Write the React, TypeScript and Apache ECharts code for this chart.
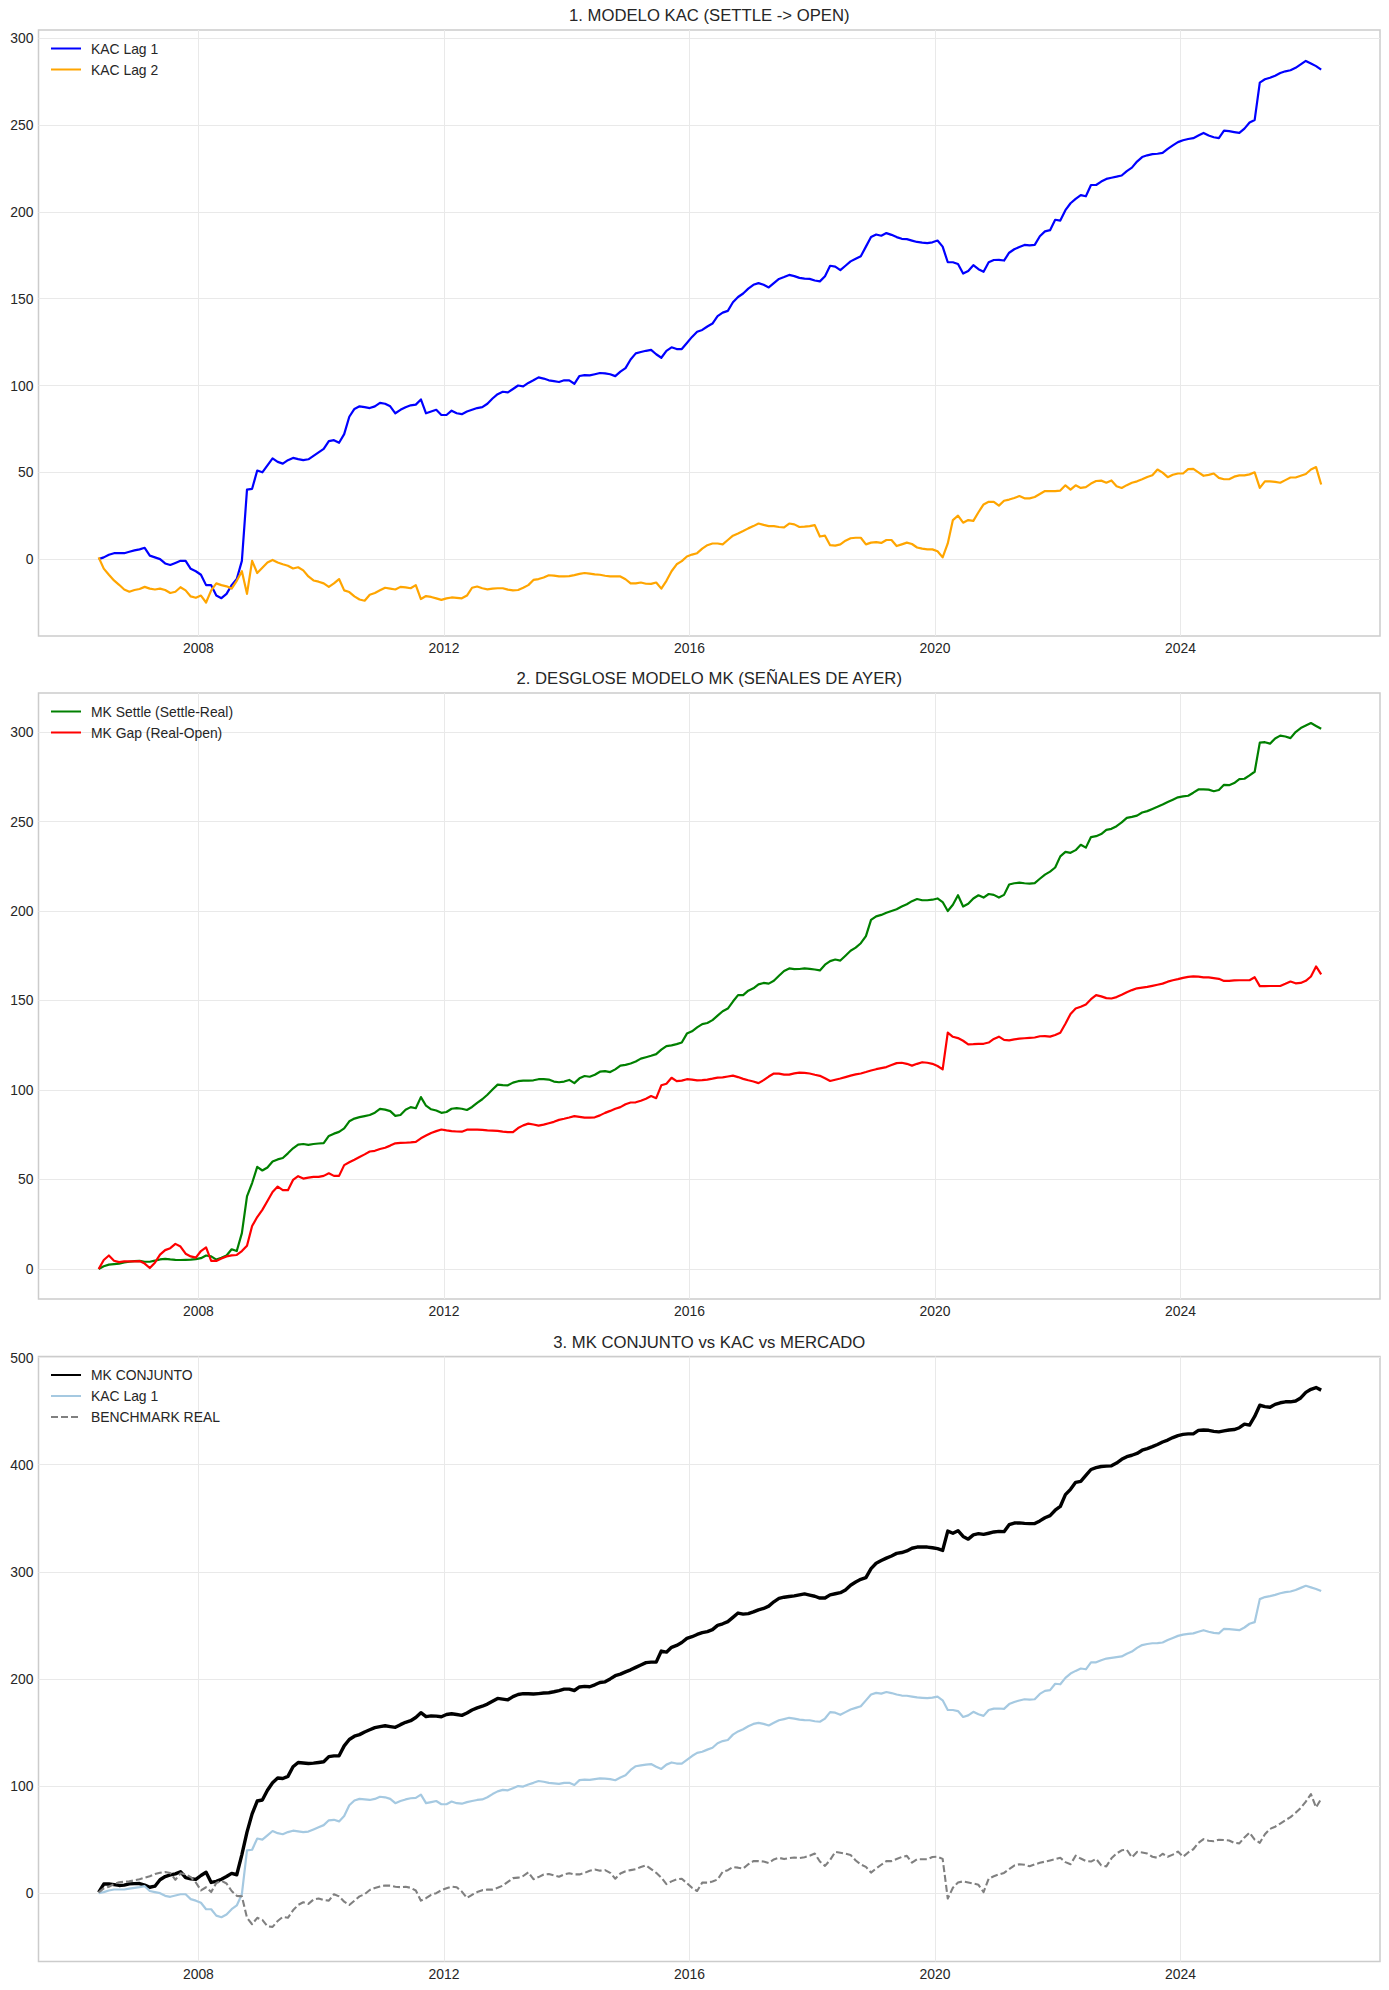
import React, { useEffect, useRef } from 'react';
import * as echarts from 'echarts';

// ---- data (monthly samples, starting May 2006) ----
const START_YEAR = 2006;
const START_MONTH = 5;

const KAC_LAG1 = [
  0, 1, 2.5, 3.4, 3.4, 3.4, 4.2, 5, 5.6, 6.5,
  2, 1, 0, -2.5, -3.4, -2.2, -1, -1, -5.6, -7,
  -9, -15, -15, -21, -22.5, -20, -15, -11.5, -1, 40,
  40.5, 51, 50, 54, 58, 56, 55, 57, 58.3, 57.6,
  57, 57.5, 59.5, 61.5, 63.5, 68, 68.5, 67, 72, 82,
  86.5, 88, 87.5, 87, 88, 90, 89.5, 88, 84, 86,
  87.5, 88.6, 89, 92, 84, 85, 86, 83, 83, 85.5,
  84, 83.5, 85, 86, 87, 87.5, 89.5, 92.5, 95, 96.4,
  96, 98, 100, 99.5, 101.5, 103, 104.7, 104, 103, 102.5,
  102, 103, 103, 101, 105.5, 106, 105.8, 106.5, 107.2, 107,
  106.5, 105.4, 108, 110, 115, 118.5, 119.3, 120, 120.5, 118,
  116, 120, 122, 121, 121, 124.5, 128, 131, 132, 134,
  135.7, 140, 142, 143, 148, 151, 153, 155.8, 158, 159,
  158, 156.5, 159, 161.4, 162.5, 163.7, 163, 162, 161.6, 161.4,
  160.5, 160, 163, 169, 168.5, 166.5, 169, 171.5, 173, 174.5,
  180, 185.5, 187, 186.3, 187.8, 186.8, 185.5, 184.5, 184.3, 183.5,
  182.7, 182.3, 182, 182.5, 183.5, 180, 171, 171, 170, 164.5,
  166, 169.3, 167, 165.5, 171, 172.3, 172.4, 172, 176.5, 178.5,
  179.8, 181, 180.7, 181, 186, 188.8, 189.5, 195.5, 195, 201,
  205, 207.5, 209.7, 209, 215.5, 215.5, 217.5, 219, 219.7, 220.3,
  221, 223.5, 225.5, 229, 231.6, 232.6, 233.3, 233.5, 234, 236.3,
  238.3, 240.2, 241.3, 242, 242.5, 244, 245.5, 244, 243, 242.5,
  246.8, 246.5, 246, 245.5, 248, 251.5, 253, 274.5, 276.4, 277.3,
  278.5, 280, 281, 281.6, 283, 285, 287, 285.5, 284, 282,
];

const KAC_LAG2 = [
  1, -5.5, -9, -12.3, -14.8, -17.5, -18.8, -17.8, -17.2, -16,
  -17, -17.5, -17, -17.8, -19.5, -18.8, -16.2, -18, -21.5, -22.3,
  -21, -25, -18, -14, -15, -15.7, -17, -12.5, -7, -20,
  -1, -8, -5, -2, -0.5, -2, -3, -3.8, -5.4, -4.7,
  -6.5, -10, -12.3, -13, -14, -16, -14, -11.5, -18, -19,
  -21.5, -23.3, -24, -20.5, -19.5, -18, -16.5, -17, -17.5, -16,
  -16.3, -16.8, -15, -23, -21.3, -21.8, -22.6, -23.5, -22.6, -22.1,
  -22.3, -22.6, -21, -16.5, -15.8, -16.8, -17.4, -17, -16.8, -16.8,
  -17.6, -18, -17.8, -16.5, -15, -12, -11.5, -10.6, -9.3, -9.5,
  -10, -10, -9.8, -9.2, -8.5, -8, -8.4, -8.8, -9, -9.6,
  -10, -10, -10, -11.6, -14, -14, -13.5, -14.2, -14.3, -13.5,
  -17, -12.5, -7, -3, -1.2, 1.5, 2.6, 3.4, 6, 8,
  9, 9, 8.5, 11, 13.5, 14.8, 16.2, 17.7, 19, 20.5,
  19.7, 19, 19, 18.5, 18.3, 20.5, 20, 18.5, 18.7, 19,
  19.6, 13, 13.5, 8, 7.8, 8.5, 10.6, 12, 12.3, 12.3,
  8.5, 9.5, 9.8, 9.3, 11, 11, 7.5, 8.5, 9.5, 8.7,
  6.7, 6, 5.6, 5.6, 4.5, 1, 9, 22.5, 25, 21,
  22.5, 22, 27, 31.5, 33, 33, 30.8, 33.6, 34.3, 35.2,
  36.3, 35, 35, 35.8, 37.5, 39.2, 39.2, 39.2, 39.5, 42.5,
  40, 42.5, 41, 41.5, 43.5, 45, 45.2, 44, 45.3, 42,
  41, 42.6, 44, 44.8, 46, 47.3, 48.3, 51.6, 49.8, 47.2,
  48.6, 49.3, 49.3, 51.8, 52, 50, 48, 48.5, 49.3, 46.8,
  46, 46, 47.5, 48.2, 48.2, 48.8, 50, 41, 44.8, 44.8,
  44.5, 44, 45.5, 47, 47, 48, 49, 51.6, 53, 43,
];

const MK_SETTLE = [
  0, 1.5, 2.4, 2.7, 3, 3.6, 4, 4.4, 4.5, 4,
  4, 4.6, 5.3, 5.6, 5.3, 5.1, 5, 5.1, 5.2, 5.5,
  6, 7.5, 7, 5.2, 6.2, 7.5, 11, 10, 20, 40.5,
  48, 57, 55, 56.7, 60, 61.2, 62, 64.6, 67.4, 69.5,
  69.8, 69.3, 69.8, 70.1, 70.3, 74.3, 75.6, 76.6, 78.5, 82.5,
  84, 84.8, 85.4, 86, 87.3, 89.4, 89, 88.2, 85.5, 86,
  88.9, 90.4, 89.8, 96, 91.2, 89.2, 88.5, 87.2, 87.7, 89.5,
  89.8, 89.5, 88.8, 90.5, 92.8, 94.8, 97.3, 100.2, 103, 102.7,
  102.6, 104.1, 104.9, 105.2, 105.2, 105.4, 106, 106, 105.8, 104.7,
  104.3, 104.7, 105.6, 103.8, 106.5, 107.8, 107.4, 108.5, 110.2, 110.5,
  110, 111.5, 113.6, 114, 114.8, 115.9, 117.5, 118.3, 119.1, 120,
  122.5, 124.5, 124.9, 125.6, 126.5, 131.5, 132.8, 135, 136.8, 137.4,
  139, 141.5, 144, 145.5, 149.4, 153, 153, 155.5, 156.8, 159,
  159.8, 159.4, 161, 163.8, 166.5, 167.9, 167.5, 167.6, 167.9, 167.7,
  167.3, 166.8, 170, 172, 172.9, 172.3, 175, 177.8, 179.5, 182,
  186, 195, 197, 197.8, 199, 200, 201, 202.5, 203.8, 205.5,
  206.7, 206, 206, 206.3, 207, 205, 200, 203.5, 208.8, 202.5,
  204, 207, 208.8, 207.5, 209.5, 209, 207.5, 209, 214.8, 215.5,
  215.8, 215.5, 215.3, 215.6, 218, 220.3, 222, 224.3, 230.5, 233,
  232.5, 234, 237, 235.4, 241.3, 241.8, 243, 245.3, 245.9, 247.4,
  249.5, 252, 252.6, 253.3, 255, 255.8, 257, 258.2, 259.5, 260.9,
  262.2, 263.5, 264, 264.4, 266.1, 267.9, 268, 267.8, 266.9, 267.6,
  270.5, 270.3, 271.5, 273.7, 273.9, 275.8, 277.8, 294.1, 294.3, 293.5,
  296.4, 298, 297.5, 296.6, 300, 302.2, 303.6, 305, 303.4, 301.8,
];

const MK_GAP = [
  0, 5, 7.5, 4.6, 3.8, 4.2, 4.3, 4.2, 4.4, 3,
  0.5, 3.5, 8, 10.5, 11.6, 14, 12.5, 8.5, 7, 6.3,
  10, 12, 4.5, 4.5, 5.8, 7, 7.6, 7.8, 10, 13,
  24, 29, 33, 38, 43, 46, 44, 44, 49.7, 51.8,
  50.5, 51, 51.4, 51.4, 52, 53.4, 52, 52, 58, 59.6,
  61, 62.5, 64, 65.6, 66, 67, 67.7, 68.9, 70.2, 70.4,
  70.5, 70.7, 71, 73, 74.5, 76, 77, 77.9, 77.4, 77,
  76.8, 76.7, 77.8, 77.9, 77.8, 77.7, 77.4, 77.3, 77.1, 76.7,
  76.4, 76.4, 78.7, 80.2, 81.2, 80.7, 80.1, 80.6, 81.4, 82.2,
  83.3, 83.9, 84.6, 85.4, 85, 84.5, 84.5, 84.7, 85.8, 87.2,
  88.3, 89.5, 90.4, 92, 93, 93.1, 94, 95.1, 96.6, 95.4,
  102.6, 103.5, 106.8, 104.9, 105.2, 106, 105.8, 105.4, 105.5, 105.8,
  106.3, 106.9, 107, 107.5, 108, 107.2, 106.2, 105.4, 104.7, 103.8,
  105.5, 107.5, 109.2, 109.1, 108.6, 108.6, 109.3, 109.7, 109.5, 109.2,
  108.5, 107.9, 106.5, 105, 105.7, 106.4, 107.2, 108, 108.7, 109.2,
  110, 110.9, 111.6, 112.2, 112.8, 113.9, 115, 115.2, 114.6, 113.6,
  114.6, 115.5, 115.2, 114.6, 113.4, 111.5, 132, 129.7, 129, 127.5,
  125.5, 125.6, 125.8, 125.8, 126.5, 128.5, 129.8, 128, 127.7, 128.3,
  128.7, 128.9, 129.1, 129.3, 130, 130.1, 129.8, 130.7, 132, 137,
  142.5, 145.5, 146.5, 147.8, 150.7, 153, 152.3, 151.3, 151.1, 151.9,
  153.2, 154.6, 155.8, 156.8, 157.2, 157.6, 158.2, 158.8, 159.4, 160.5,
  161.3, 161.9, 162.6, 163.2, 163.5, 163.3, 162.9, 162.9, 162.5, 162.1,
  160.9, 161, 161.2, 161.3, 161.3, 161.3, 163, 158, 158, 158.1,
  158.1, 158.1, 159.3, 160.6, 159.6, 159.8, 161, 163.4, 169, 164.6,
];

const MK_CONJUNTO = [
  0.7, 8.5, 8.7, 8, 7.2, 7.5, 8.7, 8.9, 9, 7.5,
  5.5, 6.5, 12.5, 15.5, 17.1, 18, 20, 14.5, 13.4, 12.9,
  16.5, 19.5, 10, 11, 13, 15.5, 18.5, 17.2, 36, 57,
  74, 86, 87, 96, 103, 107.5, 107, 109, 118, 122,
  121.5, 121, 121.4, 122, 122.7, 127.5, 128.2, 128.2, 137.5, 143.5,
  146.5, 148, 150.5, 152.5, 154.5, 155.5, 156.3, 155.5, 154.8, 157.3,
  159.5, 161, 164, 168.5, 164.8, 165.5, 165.3, 164.7, 166.8, 167.5,
  166.8, 166, 168.2, 171, 173, 174.5, 176.5, 179.2, 181.8, 181.2,
  180.5, 183.5, 185.5, 186.3, 186.2, 185.9, 186.3, 186.8, 187.1, 188,
  189.1, 190.5, 190.5, 189.2, 192.5, 193, 192.7, 194.5, 196.7, 197.3,
  200, 203, 204.5, 206.6, 208.5, 210.8, 213, 215.2, 215.7, 215.7,
  226, 225, 229.5, 231.3, 234, 237.8, 239.4, 241.5, 243.2, 244.2,
  246, 250, 251.5, 253.5, 257.5, 261.5, 260.5, 261, 262.6, 264.5,
  265.8, 268, 272, 275.2, 276.3, 277, 277.5, 278.5, 279.4, 278.3,
  277.2, 275.5, 275.5, 278.5, 279.5, 280.5, 283.1, 287.5, 290.5, 293,
  294.5, 303, 308, 310.5, 312.8, 314.8, 317.2, 318, 319.5, 322,
  323.1, 323.1, 323.1, 322.5, 321.6, 320, 338, 336, 338.4, 333,
  330.5, 334.5, 335.6, 334.9, 336, 337.2, 337.7, 337.5, 344, 345.5,
  345.7, 345.2, 345, 345, 347.5, 350.5, 352.5, 357.5, 361, 372,
  377, 383.5, 384.5, 390, 395.5, 397.2, 398.3, 398.7, 398.9, 401.5,
  405, 407.5, 408.8, 410.5, 413.5, 415, 416.8, 418.8, 421.2, 423,
  425.3, 427.2, 428.3, 428.8, 428.8, 432, 432.4, 432.1, 431.1, 430.6,
  431.5, 432.4, 432.8, 434.5, 437.9, 437, 445, 455.5, 454.2, 453.6,
  456.3, 457.8, 458.7, 458.7, 459.5, 462.3, 467.5, 470.4, 472, 469.6,
];

const BENCHMARK = [
  0.7, 4.4, 6, 8.5, 10.2, 10.6, 11, 12, 13, 14.5,
  15.8, 17.9, 19, 19.7, 18.9, 12.5, 18.5, 17.5, 15, 10,
  2.6, 5.5, 1, 9.5, 11.5, 9, 2, -2.5, -3, -23,
  -29, -23, -25, -31, -31.5, -26, -22.2, -23, -16, -11,
  -8.5, -10, -6, -5, -6.5, -7, -1, -3, -8, -11,
  -7, -3, -1, 3, 4.9, 6.2, 7.2, 7, 6, 5.6,
  6, 5, 2.5, -7, -4.7, -1.5, 0, 2.8, 4.6, 6.2,
  5.5, 1.5, -4.5, -1.5, 1, 2.8, 3.3, 3.3, 5, 7,
  10.5, 14, 14.5, 16, 19.5, 13, 15, 17.4, 17.9, 16.5,
  15.3, 17.5, 18.5, 17.5, 17.5, 18.9, 21, 22, 21, 21.5,
  19, 13.5, 18.3, 20.5, 21.5, 22.4, 24.5, 26, 22.5, 19,
  14.5, 8.5, 11, 12.8, 13.5, 9.3, 5, 2, 9.8, 9.8,
  10.8, 12.8, 20, 21.5, 24.4, 23.8, 23, 27, 29.9, 29.9,
  29.5, 28.2, 31.5, 33, 31.8, 32.8, 33.3, 32.8, 33.5, 35,
  37, 29.5, 25.5, 31, 38.5, 37.8, 36.8, 35.6, 30.5, 26.8,
  24.5, 19.2, 23, 26.5, 29.9, 29.9, 31.8, 33.8, 34.8, 28.5,
  31.7, 31.7, 31.7, 33.8, 34, 32, -5, 5, 10, 11,
  10, 9, 7.8, 1, 13.5, 15.8, 17.5, 18.9, 22.5, 25.8,
  27, 26.5, 25.1, 26.8, 28.4, 29.4, 30.5, 31.7, 33, 29,
  27, 35, 32.3, 30, 29.5, 32, 26, 25, 32.5, 37,
  40, 40.5, 33.5, 38.5, 38, 37, 34, 33, 36.8, 34,
  36, 38.8, 34, 38, 41, 47, 50.4, 49, 48.5, 49.9,
  49.6, 49.2, 47, 46.5, 52, 56.5, 50, 47, 55, 60,
  62, 65, 68.1, 71, 75, 79.5, 85.5, 92.5, 80, 88,
];

const TICK_YEARS = [2008, 2012, 2016, 2020, 2024];

const TITLES = [
  '1. MODELO KAC (SETTLE -> OPEN)',
  '2. DESGLOSE MODELO MK (SEÑALES DE AYER)',
  '3. MK CONJUNTO vs KAC vs MERCADO',
];

// ---- layout / style ----
const W = 1389;
const FONT = '"Liberation Sans", Arial, Helvetica, sans-serif';
const TEXT = '#262626';
const GRID_LEFT = 38.5;
const GRID_W = 1341.5;

// x positions as decimal years (mid-month)
const DATES: number[] = KAC_LAG1.map((_, i) => START_YEAR + (START_MONTH - 1 + i + 0.5) / 12);
const X_MIN = 2005.395;
const X_MAX = 2027.25;

const pairs = (vals: number[]) => vals.map((v, i) => [DATES[i], v]);

type S = { name: string; data: number[]; color: string; width: number; dashed?: boolean };

function makeOption(title: string, gridTop: number, gridH: number, yMin: number, yMax: number, series: S[]) {
  const labelStyle = { fontFamily: FONT, fontSize: 13.9, color: TEXT };
  const gridLine = { color: '#e9e9e9', width: 1 };
  return {
    animation: false,
    backgroundColor: '#ffffff',
    title: {
      text: title,
      left: GRID_LEFT + GRID_W / 2,
      top: gridTop - 24.5,
      textAlign: 'center',
      padding: 0,
      textStyle: { fontFamily: FONT, fontSize: 16.7, fontWeight: 'normal', color: TEXT, lineHeight: 20 },
    },
    legend: {
      orient: 'vertical',
      left: 50,
      top: gridTop + 11.5,
      padding: 0,
      itemWidth: 30,
      itemHeight: 14,
      itemGap: 7,
      selectedMode: false,
      data: series.map((s) => s.name),
      itemStyle: { opacity: 0, color: 'rgba(0,0,0,0)', borderColor: 'rgba(0,0,0,0)', borderWidth: 0 },
      textStyle: { ...labelStyle, lineHeight: 14, padding: [0, 0, 0, 5] },
    },
    grid: {
      left: GRID_LEFT,
      top: gridTop,
      width: GRID_W,
      height: gridH,
      show: true,
      borderColor: '#cccccc',
      borderWidth: 1.5,
      backgroundColor: 'transparent',
      containLabel: false,
      outerBoundsMode: 'none',
    },
    xAxis: {
      type: 'value',
      min: X_MIN,
      max: X_MAX,
      axisLine: { show: false },
      axisTick: { show: false, customValues: TICK_YEARS },
      axisLabel: {
        ...labelStyle,
        customValues: TICK_YEARS,
        margin: 5,
        formatter: (v: number) => String(Math.round(v)),
      },
      splitLine: { show: true, lineStyle: gridLine },
    },
    yAxis: {
      type: 'value',
      min: yMin,
      max: yMax,
      axisLine: { show: false },
      axisTick: { show: false },
      axisLabel: { ...labelStyle, margin: 5, showMinLabel: false, showMaxLabel: false },
      splitLine: { show: true, showMinLine: false, showMaxLine: false, lineStyle: gridLine },
    },
    series: series.map((s) => ({
      type: 'line',
      name: s.name,
      data: pairs(s.data),
      showSymbol: false,
      symbol: 'none',
      silent: true,
      lineStyle: { color: s.color, width: s.width, type: s.dashed ? [7, 3] : 'solid', join: 'round' },
      itemStyle: { color: s.color },
    })),
  };
}

const PANELS = [
  {
    top: 0,
    h: 663,
    option: makeOption(TITLES[0], 30, 606, -44.3, 304.8, [
      { name: 'KAC Lag 1', data: KAC_LAG1, color: '#0000ff', width: 2.2 },
      { name: 'KAC Lag 2', data: KAC_LAG2, color: '#ffa500', width: 2.2 },
    ]),
  },
  {
    top: 663,
    h: 663,
    option: makeOption(TITLES[1], 30, 606, -16.8, 321.8, [
      { name: 'MK Settle (Settle-Real)', data: MK_SETTLE, color: '#008000', width: 2.2 },
      { name: 'MK Gap (Real-Open)', data: MK_GAP, color: '#ff0000', width: 2.2 },
    ]),
  },
  {
    top: 1326,
    h: 664,
    option: makeOption(TITLES[2], 30.5, 605, -63.8, 501, [
      { name: 'MK CONJUNTO', data: MK_CONJUNTO, color: '#000000', width: 3.4 },
      { name: 'KAC Lag 1', data: KAC_LAG1, color: '#a5c9e1', width: 2.2 },
      { name: 'BENCHMARK REAL', data: BENCHMARK, color: '#808080', width: 2.1, dashed: true },
    ]),
  },
];

export default function App() {
  const refs = useRef<(HTMLDivElement | null)[]>([]);

  useEffect(() => {
    const charts = PANELS.map((p, i) => {
      const el = refs.current[i] as HTMLDivElement;
      const c = echarts.init(el, undefined, { renderer: 'svg' });
      c.setOption(p.option as any);
      return c;
    });
    return () => charts.forEach((c) => c.dispose());
  }, []);

  return (
    <div style={{ position: 'absolute', left: 0, top: 0, width: W, height: 1990, background: '#ffffff' }}>
      {PANELS.map((p, i) => (
        <div
          key={i}
          ref={(el) => {
            refs.current[i] = el;
          }}
          style={{ position: 'absolute', left: 0, top: p.top, width: W, height: p.h }}
        />
      ))}
    </div>
  );
}
